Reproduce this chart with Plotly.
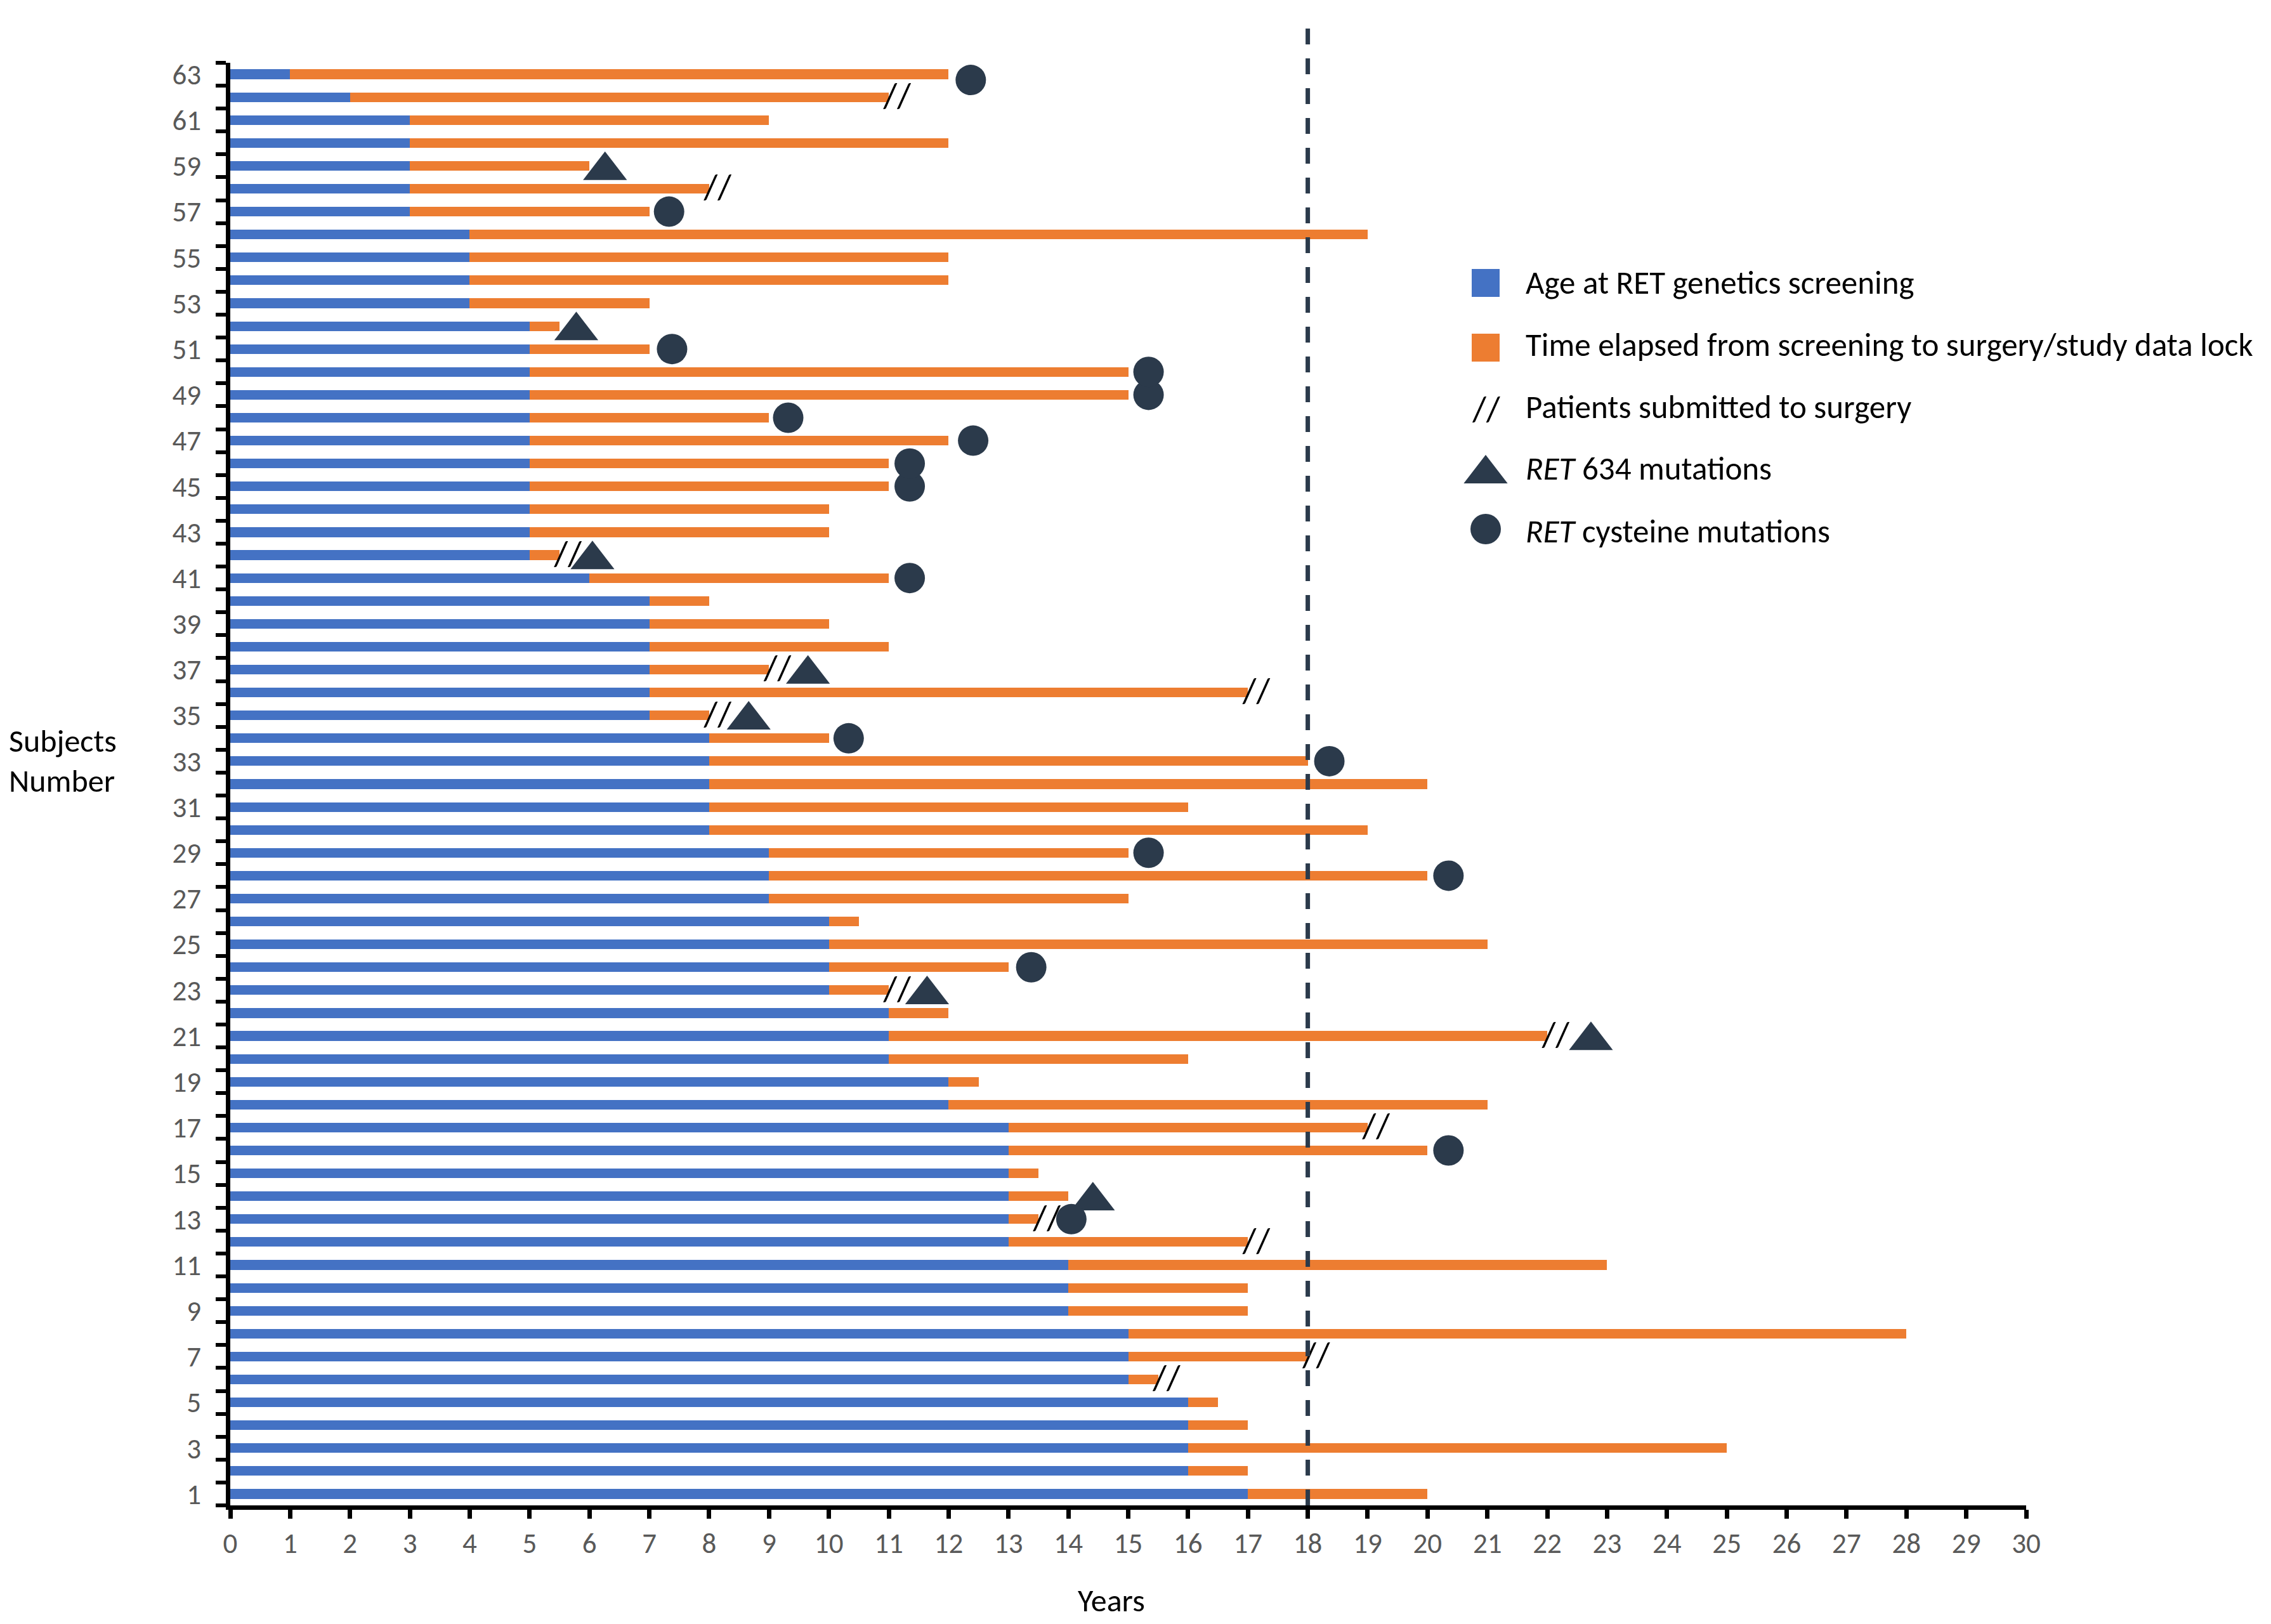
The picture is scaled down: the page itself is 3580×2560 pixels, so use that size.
import plotly.graph_objects as go

# ---------------- data ----------------
subjects = list(range(1, 64))
age_at_screening = [17, 16, 16, 16, 16, 15, 15, 15, 14, 14,
                    14, 13, 13, 13, 13, 13, 13, 12, 12, 11,
                    11, 11, 10, 10, 10, 10, 9, 9, 9, 8,
                    8, 8, 8, 8, 7, 7, 7, 7, 7, 7,
                    6, 5, 5, 5, 5, 5, 5, 5, 5, 5,
                    5, 5, 4, 4, 4, 4, 3, 3, 3, 3,
                    3, 2, 1]
time_elapsed = [3, 1, 9, 1, 0.5, 0.5, 3, 13, 3, 3,
                9, 4, 0.5, 1, 0.5, 7, 6, 9, 0.5, 5,
                11, 1, 1, 3, 11, 0.5, 6, 11, 6, 11,
                8, 12, 10, 2, 1, 10, 2, 4, 3, 1,
                5, 0.5, 5, 5, 6, 6, 7, 4, 10, 10,
                2, 0.5, 3, 8, 8, 15, 4, 5, 3, 9,
                6, 9, 11]
surgery_subjects = [6, 7, 12, 13, 17, 21, 23, 35, 36, 37, 42, 58, 62]
ret634_subjects = [14, 21, 23, 35, 37, 42, 52, 59]
ret634_x = [14.41, 22.73, 11.64, 8.66, 9.65, 6.05, 5.78, 6.26]
cysteine_subjects = [13, 16, 24, 28, 29, 33, 34, 41, 45, 46, 47, 48, 49, 50,
                     51, 57, 63]
cysteine_x = [14.05, 20.35, 13.38, 20.35, 15.34, 18.36, 10.33, 11.35, 11.35,
              11.35, 12.41, 9.32, 15.34, 15.34, 7.38, 7.33, 12.37]
cysteine_y = [13, 16, 24, 28, 29, 33, 34, 41, 45, 46, 47, 48, 49, 50,
              51, 57, 62.75]
x_ticks = list(range(0, 31))
y_tick_subjects = list(range(1, 64, 2))
threshold_age = 18

legend_labels = ["Age at RET genetics screening",
                 "Time elapsed from screening to surgery/study data lock",
                 "Patients submitted to surgery",
                 "<i>RET</i> 634 mutations",
                 "<i>RET</i> cysteine mutations"]

# ---------------- style ----------------
BLUE = "#4472C4"
ORANGE = "#ED7D31"
DARK = "#2B3A4B"
GREY = "#595959"
FONT = "Carlito, Calibri, 'Liberation Sans Narrow', Lato, sans-serif"

W, H = 3580, 2560
PAGE = 8                      # browser body margin offset
PL, PR, PT, PB = 363, 3194, 99, 2373   # plot box in screenshot pixels
L, T = PL - PAGE, PT - PAGE
R, B = W - (PR - PAGE), H - (PB - PAGE)

def pxx(px):
    return (px - PL) / (PR - PL)

def pxy(py):
    return (PB - py) / (PB - PT)

end_age = {s: a + e for s, a, e in zip(subjects, age_at_screening, time_elapsed)}

fig = go.Figure()

fig.add_trace(go.Bar(
    y=subjects, x=age_at_screening, orientation="h", width=0.42,
    marker=dict(color=BLUE, line=dict(width=0)), name="Age at RET genetics screening",
    showlegend=False))
fig.add_trace(go.Bar(
    y=subjects, x=time_elapsed, orientation="h", width=0.42,
    marker=dict(color=ORANGE, line=dict(width=0)),
    name="Time elapsed from screening to surgery/study data lock", showlegend=False))

# surgery marks "//"
fig.add_trace(go.Scatter(
    x=[end_age[s] + 0.14 for s in surgery_subjects],
    y=[s - 0.05 for s in surgery_subjects], mode="text",
    text=["//"] * len(surgery_subjects),
    textposition="middle center",
    textfont=dict(family=FONT, size=56, color="black"),
    showlegend=False, hoverinfo="skip", cliponaxis=False))

# RET 634 triangles (shifted so the triangle's box is centred on the bar)
fig.add_trace(go.Scatter(
    x=ret634_x, y=[s - 0.2 for s in ret634_subjects], mode="markers",
    marker=dict(symbol="triangle-up", size=60, color=DARK, line=dict(width=0)),
    showlegend=False, cliponaxis=False))

# RET cysteine circles
fig.add_trace(go.Scatter(
    x=cysteine_x, y=cysteine_y, mode="markers",
    marker=dict(symbol="circle", size=48, color=DARK, line=dict(width=0)),
    showlegend=False, cliponaxis=False))

# ---------------- manual legend (overlay axes in paper units) ----------------
lx = pxx(2342)
fig.add_trace(go.Scatter(
    x=[lx, lx], y=[pxy(446), pxy(548)], xaxis="x2", yaxis="y2", mode="markers",
    marker=dict(symbol="square", size=44, color=[BLUE, ORANGE], line=dict(width=0)),
    showlegend=False, hoverinfo="skip", cliponaxis=False))
fig.add_trace(go.Scatter(
    x=[pxx(2343)], y=[pxy(649)], xaxis="x2", yaxis="y2", mode="text", text=["//"],
    textfont=dict(family=FONT, size=56, color="black"),
    showlegend=False, hoverinfo="skip", cliponaxis=False))
fig.add_trace(go.Scatter(
    x=[lx], y=[pxy(747)], xaxis="x2", yaxis="y2", mode="markers",
    marker=dict(symbol="triangle-up", size=60, color=DARK, line=dict(width=0)),
    showlegend=False, hoverinfo="skip", cliponaxis=False))
fig.add_trace(go.Scatter(
    x=[lx], y=[pxy(834)], xaxis="x2", yaxis="y2", mode="markers",
    marker=dict(symbol="circle", size=48, color=DARK, line=dict(width=0)),
    showlegend=False, hoverinfo="skip", cliponaxis=False))

annotations = []
for lab, py in zip(legend_labels, [445, 543, 641, 739, 837]):
    annotations.append(dict(x=pxx(2403), y=pxy(py), xref="paper", yref="paper",
                            text=lab, showarrow=False, xanchor="left", yanchor="middle",
                            font=dict(family=FONT, size=51, color="black")))
annotations.append(dict(x=pxx(12), y=pxy(1167), xref="paper", yref="paper",
                        text="Subjects", showarrow=False, xanchor="left",
                        yanchor="middle", font=dict(family=FONT, size=50, color="black")))
annotations.append(dict(x=pxx(12), y=pxy(1230), xref="paper", yref="paper",
                        text="Number", showarrow=False, xanchor="left",
                        yanchor="middle", font=dict(family=FONT, size=50, color="black")))
annotations.append(dict(x=pxx(1752), y=pxy(2522), xref="paper", yref="paper",
                        text="Years", showarrow=False, xanchor="center",
                        yanchor="middle",
                        font=dict(family=FONT, size=50, color="black")))

fig.add_shape(type="line", xref="x", yref="paper", x0=threshold_age, x1=threshold_age,
              y0=0, y1=pxy(37), line=dict(color=DARK, width=7, dash="25px,22px"))

fig.update_layout(
    width=W, height=H,
    margin=dict(l=L, r=R, t=T, b=B),
    paper_bgcolor="white", plot_bgcolor="white",
    barmode="stack", bargap=0.58,
    font=dict(family=FONT, size=44, color=GREY),
    annotations=annotations,
    showlegend=False,
    xaxis=dict(range=[0, 30], tickmode="array", tickvals=x_ticks,
               ticktext=[str(v) for v in x_ticks],
               ticks="outside", ticklen=14, tickwidth=7, tickcolor="black",
               showline=True, linewidth=7, linecolor="black",
               showgrid=False, zeroline=False,
               tickfont=dict(family=FONT, size=45, color=GREY)),
    yaxis=dict(range=[0.5, 63.5], tickmode="array", tickvals=y_tick_subjects,
               ticktext=[str(v) for v in y_tick_subjects], ticks="",
               ticklabelstandoff=30,
               minor=dict(tickmode="array",
                          tickvals=[v + 0.5 for v in range(0, 64)],
                          ticks="outside", ticklen=16, tickwidth=6, tickcolor="black",
                          showgrid=False),
               showline=True, linewidth=7, linecolor="black",
               showgrid=False, zeroline=False,
               tickfont=dict(family=FONT, size=45, color=GREY)),
    xaxis2=dict(overlaying="x", range=[0, 1], visible=False, anchor="y2"),
    yaxis2=dict(overlaying="y", range=[0, 1], visible=False, anchor="x2"),
)

fig.write_html("out.html")
